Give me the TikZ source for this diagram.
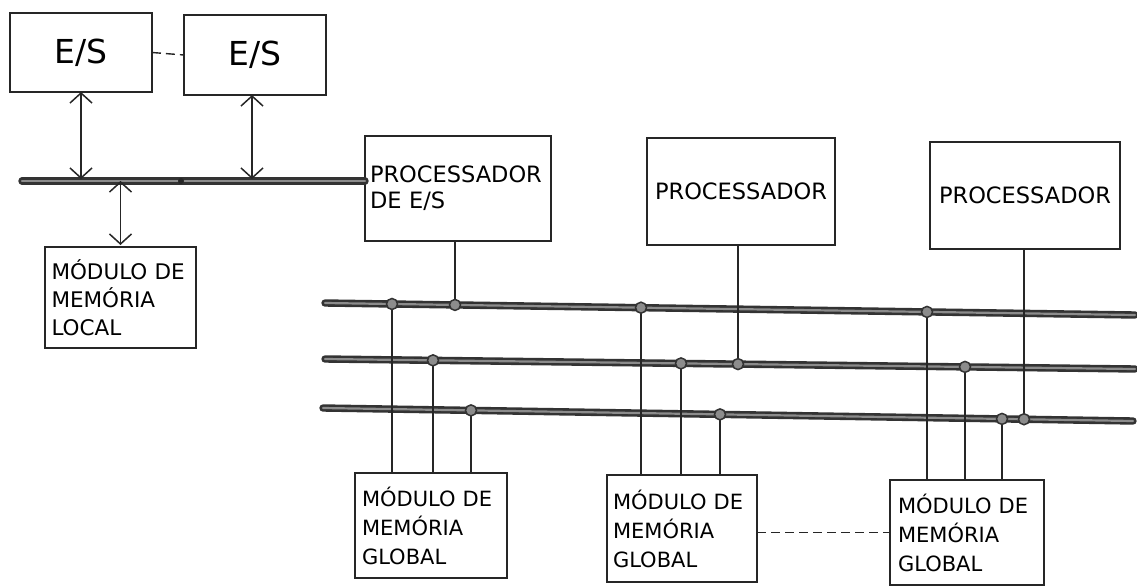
\documentclass[tikz,border=0pt]{standalone}
\usepackage{fontspec}
\setmainfont{DejaVu Sans}
\usetikzlibrary{arrows.meta,calc}

\tikzset{
  ink/.style={draw=black!85},
  box/.style={ink, line width=2.3pt, inner sep=0pt, outer sep=0pt, anchor=north west},
  ioname/.style={box, font=\fontsize{33}{38}\selectfont},
  procbox/.style={box, font=\fontsize{22.5}{26}\selectfont, align=center},
  membox/.style={box, font=\fontsize{21}{29}\selectfont, align=left, text width=138pt},
  localbox/.style={box, font=\fontsize{21.5}{28}\selectfont, align=left, text width=138pt},
  conn/.style={ink, line width=1.4pt},
  linkdash/.style={ink, line width=1.4pt, dash pattern=on 9pt off 5pt},
  twoway/.style={conn, {Straight Barb[length=10pt,width=22pt,line width=1.5pt]}-{Straight Barb[length=10pt,width=22pt,line width=1.5pt]}, shorten >=2pt},
  bus/.style={draw=black!80, line width=2.6pt, double=black!45, double distance=2.2pt, line cap=round},
  jdot/.style={circle, draw=black!80, fill=black!45, line width=1.5pt, minimum size=11pt, inner sep=0pt},
  smalldot/.style={circle, fill=black!85, minimum size=6pt, inner sep=0pt},
}

\begin{document}
\begin{tikzpicture}[x=1pt,y=-1pt]
\useasboundingbox (0,0) rectangle (1137,586);

% I/O devices and the local side
\node[ioname, minimum width=142pt, minimum height=79pt] (es1) at (10,13) {E/S};
\node[ioname, minimum width=142pt, minimum height=80pt] (es2) at (184,15) {E/S};
\node[localbox, minimum width=151pt, minimum height=101pt] (lm) at (45,247)
  {MÓDULO DE\\MEMÓRIA\\LOCAL};

% processors
\node[procbox, minimum width=186pt, minimum height=105pt, align=left, text width=176pt] (pes) at (365,136)
  {PROCESSADOR\\DE E/S};
\node[procbox, minimum width=188pt, minimum height=107pt] (pr2) at (647,138) {PROCESSADOR};
\node[procbox, minimum width=190pt, minimum height=107pt] (pr3) at (930,142) {PROCESSADOR};

% global memory modules
\node[membox, minimum width=152pt, minimum height=105pt] (m1) at (355,473) {MÓDULO DE\\MEMÓRIA\\GLOBAL};
\node[membox, minimum width=150pt, minimum height=107pt] (m2) at (607,475) {MÓDULO DE\\MEMÓRIA\\GLOBAL};
\node[membox, minimum width=154pt, minimum height=105pt] (m3) at (890,480) {MÓDULO DE\\MEMÓRIA\\GLOBAL};

% local bus
\coordinate (lbL) at (22,181);
\coordinate (lbR) at (lbL -| pes.west);
\draw[bus] (lbL) -- (lbR);
\node[smalldot] (lbdot) at (181,181) {};

\draw[linkdash] (es1.east) -- (es2.west);
\draw[twoway] (es1.south) -- (es1.south |- lbL);
\draw[twoway] ([xshift=-3pt]es2.south) -- ([xshift=-3pt]es2.south |- lbL);
\draw[twoway] (lm.north |- lbL) -- (lm.north);

% global buses
\coordinate (b1a) at (325,303); \coordinate (b1b) at (1135,315);
\coordinate (b2a) at (325,359); \coordinate (b2b) at (1135,369);
\coordinate (b3a) at (323,408); \coordinate (b3b) at (1133,421);
\draw[bus] (b1a) -- (b1b);
\draw[bus] (b2a) -- (b2b);
\draw[bus] (b3a) -- (b3b);

% taps on bus 1
\coordinate (t11) at ($(b1a)!{(392-325)/810}!(b1b)$);
\coordinate (t12) at ($(b1a)!{(455-325)/810}!(b1b)$);
\coordinate (t13) at ($(b1a)!{(641-325)/810}!(b1b)$);
\coordinate (t14) at ($(b1a)!{(927-325)/810}!(b1b)$);
% taps on bus 2
\coordinate (t21) at ($(b2a)!{(433-325)/810}!(b2b)$);
\coordinate (t22) at ($(b2a)!{(681-325)/810}!(b2b)$);
\coordinate (t23) at ($(b2a)!{(738-325)/810}!(b2b)$);
\coordinate (t24) at ($(b2a)!{(965-325)/810}!(b2b)$);
% taps on bus 3
\coordinate (t31) at ($(b3a)!{(471-323)/810}!(b3b)$);
\coordinate (t32) at ($(b3a)!{(720-323)/810}!(b3b)$);
\coordinate (t33) at ($(b3a)!{(1002-323)/810}!(b3b)$);
\coordinate (t34) at ($(b3a)!{(1024-323)/810}!(b3b)$);

% processors to buses
\draw[conn] (t12 |- pes.south) -- (t12);
\draw[conn] (t23 |- pr2.south) -- (t23);
\draw[conn] (t34 |- pr3.south) -- (t34);

% buses to memory modules
\draw[conn] (t11) -- (t11 |- m1.north);
\draw[conn] (t21) -- (t21 |- m1.north);
\draw[conn] (t31) -- (t31 |- m1.north);
\draw[conn] (t13) -- (t13 |- m2.north);
\draw[conn] (t22) -- (t22 |- m2.north);
\draw[conn] (t32) -- (t32 |- m2.north);
\draw[conn] (t14) -- (t14 |- m3.north);
\draw[conn] (t24) -- (t24 |- m3.north);
\draw[conn] (t33) -- (t33 |- m3.north);

\draw[linkdash] (m2.east |- m3.west) -- (m3.west);

% junction dots
\foreach \t in {t11,t12,t13,t14,t21,t22,t23,t24,t31,t32,t33,t34}
  \node[jdot] (dot-\t) at (\t) {};
\end{tikzpicture}
\end{document}
